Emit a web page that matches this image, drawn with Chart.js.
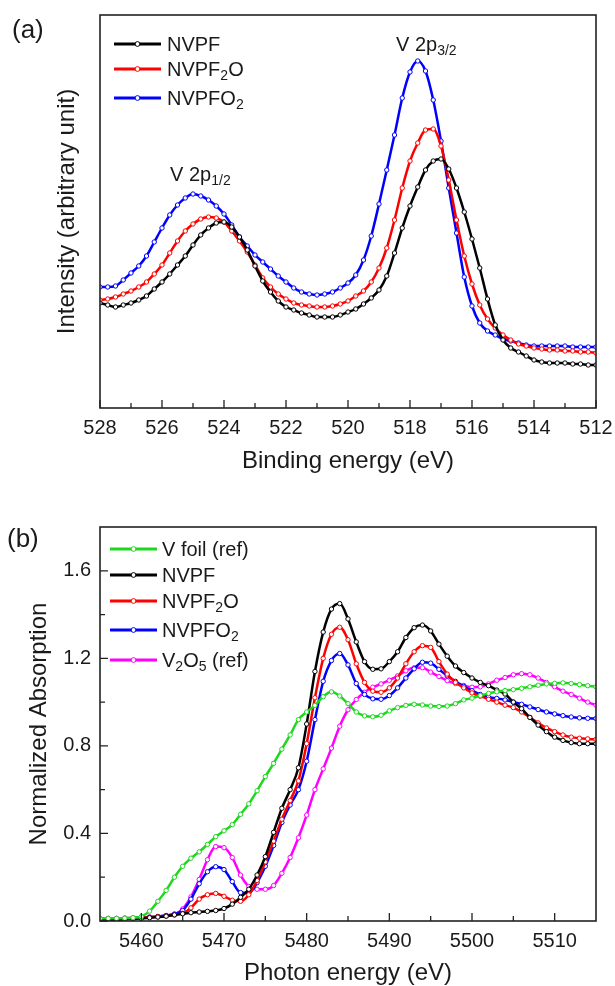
<!DOCTYPE html>
<html lang="en">
<head>
<meta charset="utf-8">
<title>V 2p XPS and V K-edge XANES</title>
<script src="https://cdn.jsdelivr.net/npm/chart.js@4"></script>
<style>
  html, body { margin: 0; padding: 0; background: #fff; }
  .panel { position: absolute; left: 0; width: 615px; }
  #panelA { top: 0; height: 493px; }
  #panelB { top: 490px; height: 496px; }
</style>
</head>
<body>
<div class="panel" id="panelA"><canvas id="xpsChart" width="615" height="493"></canvas></div>
<div class="panel" id="panelB"><canvas id="xanesChart" width="615" height="496"></canvas></div>
<script>
// (a) V 2p XPS, intensity in arbitrary units
const bindingEnergy = [528, 527.75, 527.5, 527.25, 527, 526.75, 526.5, 526.25, 526, 525.75, 525.5, 525.25, 525,
  524.75, 524.5, 524.25, 524, 523.75, 523.5, 523.25, 523, 522.75, 522.5, 522.25, 522, 521.75, 521.5, 521.25, 521,
  520.75, 520.5, 520.25, 520, 519.75, 519.5, 519.25, 519, 518.75, 518.5, 518.25, 518, 517.75, 517.5, 517.25, 517,
  516.75, 516.5, 516.25, 516, 515.75, 515.5, 515.25, 515, 514.75, 514.5, 514.25, 514, 513.75, 513.5, 513.25, 513,
  512.75, 512.5, 512.25, 512];
const xpsNVPF = [105, 103, 101, 103, 105, 108, 112, 119, 126, 134, 143, 152, 163, 173, 180, 185, 186, 181, 171, 158,
  142, 127, 116, 107, 101, 98, 95, 93, 91, 91, 91, 93, 96, 99, 104, 110, 118, 132, 155, 180, 202, 221, 238, 247, 249,
  239, 220, 196, 169, 140, 109, 83, 68, 60, 56, 52, 48, 46, 45, 45, 45, 44, 44, 43, 43];
const xpsNVPF2O = [108, 109, 111, 114, 117, 121, 126, 134, 143, 155, 167, 177, 184, 189, 191, 190, 186, 177, 167, 156,
  143, 130, 121, 114, 109, 105, 103, 102, 101, 101, 102, 104, 107, 112, 117, 126, 140, 160, 188, 220, 247, 265, 278,
  279, 262, 228, 188, 152, 124, 103, 89, 80, 73, 68, 64, 62, 60, 59, 58, 58, 57, 57, 56, 56, 55];
const xpsNVPFO2 = [121, 121, 122, 128, 135, 142, 152, 166, 180, 193, 203, 210, 214, 212, 208, 202, 194, 183, 171, 162,
  153, 146, 139, 132, 126, 120, 116, 114, 113, 114, 116, 120, 125, 133, 148, 172, 204, 238, 273, 310, 336, 347, 337,
  308, 267, 220, 175, 131, 102, 85, 77, 73, 69, 67, 65, 63, 62, 62, 62, 62, 62, 61, 61, 61, 61];
const xpsTicks = [528, 526, 524, 522, 520, 518, 516, 514, 512];
const xpsMinorTicks = [527, 525, 523, 521, 519, 517, 515, 513];

// (b) V K-edge XANES, normalized absorption
const photonEnergy = [5455, 5456, 5457, 5458, 5459, 5460, 5461, 5462, 5463, 5464, 5465, 5466, 5467, 5468, 5469,
  5470, 5471, 5472, 5473, 5474, 5475, 5476, 5477, 5478, 5479, 5480, 5481, 5482, 5483, 5484, 5485, 5486, 5487, 5488,
  5489, 5490, 5491, 5492, 5493, 5494, 5495, 5496, 5497, 5498, 5499, 5500, 5501, 5502, 5503, 5504, 5505, 5506, 5507,
  5508, 5509, 5510, 5511, 5512, 5513, 5514, 5515];
const xanesVfoil = [0.012, 0.012, 0.012, 0.013, 0.015, 0.02, 0.045, 0.09, 0.14, 0.2, 0.25, 0.287, 0.316, 0.35, 0.385,
  0.412, 0.44, 0.487, 0.535, 0.595, 0.66, 0.72, 0.785, 0.85, 0.92, 0.955, 0.985, 1.025, 1.047, 1.028, 0.993, 0.955,
  0.937, 0.933, 0.94, 0.96, 0.975, 0.985, 0.99, 0.987, 0.982, 0.98, 0.982, 0.993, 1.01, 1.018, 1.03, 1.04, 1.047,
  1.053, 1.057, 1.063, 1.07, 1.077, 1.083, 1.086, 1.088, 1.085, 1.08, 1.075, 1.07];
const xanesNVPF = [0.005, 0.005, 0.006, 0.008, 0.01, 0.012, 0.015, 0.018, 0.022, 0.028, 0.033, 0.038, 0.041, 0.044,
  0.048, 0.057, 0.077, 0.108, 0.145, 0.21, 0.294, 0.405, 0.515, 0.6, 0.7, 0.9, 1.14, 1.32, 1.425, 1.45, 1.38, 1.275,
  1.185, 1.15, 1.152, 1.185, 1.23, 1.295, 1.34, 1.352, 1.325, 1.265, 1.21, 1.165, 1.135, 1.11, 1.09, 1.075, 1.055,
  1.037, 1.0, 0.97, 0.93, 0.895, 0.865, 0.84, 0.825, 0.815, 0.81, 0.81, 0.81];
const xanesNVPF2O = [0.01, 0.01, 0.01, 0.012, 0.013, 0.015, 0.017, 0.02, 0.023, 0.028, 0.035, 0.06, 0.1, 0.12, 0.126,
  0.113, 0.095, 0.09, 0.12, 0.185, 0.27, 0.365, 0.465, 0.55, 0.64, 0.81, 1.02, 1.2, 1.31, 1.342, 1.285, 1.175, 1.09,
  1.05, 1.045, 1.065, 1.11, 1.175, 1.23, 1.258, 1.25, 1.185, 1.128, 1.09, 1.065, 1.042, 1.027, 1.013, 1.0, 0.986,
  0.975, 0.955, 0.93, 0.905, 0.882, 0.865, 0.85, 0.84, 0.835, 0.832, 0.83];
const xanesNVPFO2 = [0.01, 0.01, 0.011, 0.012, 0.013, 0.015, 0.017, 0.02, 0.025, 0.032, 0.048, 0.1, 0.17, 0.225, 0.248,
  0.235, 0.18, 0.13, 0.128, 0.175, 0.25, 0.345, 0.45, 0.53, 0.6, 0.73, 0.92, 1.095, 1.19, 1.222, 1.17, 1.085, 1.035,
  1.015, 1.013, 1.03, 1.065, 1.11, 1.152, 1.182, 1.178, 1.15, 1.12, 1.095, 1.072, 1.052, 1.035, 1.022, 1.017, 1.01,
  1.0, 0.99, 0.978, 0.966, 0.955, 0.946, 0.938, 0.932, 0.928, 0.926, 0.925];
const xanesV2O5 = [0.012, 0.012, 0.012, 0.013, 0.014, 0.016, 0.018, 0.021, 0.025, 0.03, 0.055, 0.11, 0.19, 0.28, 0.34,
  0.335, 0.29, 0.21, 0.158, 0.145, 0.145, 0.162, 0.218, 0.29, 0.38, 0.484, 0.6, 0.695, 0.79, 0.89, 0.965, 1.012, 1.045,
  1.068, 1.083, 1.1, 1.12, 1.143, 1.157, 1.157, 1.137, 1.117, 1.098, 1.085, 1.076, 1.068, 1.07, 1.083, 1.1, 1.112,
  1.125, 1.13, 1.125, 1.11, 1.09, 1.07, 1.05, 1.035, 1.018, 1.0, 0.986];
const xanesTicksX = [5460, 5470, 5480, 5490, 5500, 5510];
const xanesMinorX = [5465, 5475, 5485, 5495, 5505];
const xanesTicksY = [0, 0.4, 0.8, 1.2, 1.6];
const xanesMinorY = [0.2, 0.6, 1.0, 1.4];

const FONT = '"Liberation Sans", Arial, sans-serif';
Chart.defaults.font.family = FONT;
Chart.defaults.color = '#1a1a1a';

function toPoints(xs, ys) {
  return xs.map((x, i) => ({ x: x, y: ys[i] }));
}

function series(label, color, xs, ys) {
  return {
    label: label,
    data: toPoints(xs, ys),
    borderColor: color,
    borderWidth: 2.5,
    pointRadius: 2.2,
    pointBorderWidth: 1,
    pointBackgroundColor: '#fff',
    pointBorderColor: color,
    cubicInterpolationMode: 'monotone'
  };
}

// digits that follow a letter are subscripts (NVPF2O, V2O5)
function formulaParts(text) {
  const parts = [];
  let cur = null;
  for (let i = 0; i < text.length; i++) {
    const ch = text[i];
    const sub = /\d/.test(ch) && /[A-Za-z]/.test(text[i - 1] || '');
    if (!cur || cur.sub !== sub) { cur = { t: '', sub: sub }; parts.push(cur); }
    cur.t += ch;
  }
  return parts;
}

function drawRich(ctx, parts, x, y, size) {
  ctx.textAlign = 'left';
  ctx.textBaseline = 'alphabetic';
  parts.forEach(p => {
    const s = p.sub ? size * 0.7 : size;
    ctx.font = s + 'px ' + FONT;
    ctx.fillText(p.t, x, p.sub ? y + size * 0.22 : y);
    x += ctx.measureText(p.t).width;
  });
}

// frame, inward ticks, legend, peak labels and panel letter
const panelDecor = {
  id: 'panelDecor',
  afterDraw(chart, args, opts) {
    const { ctx, chartArea: a, scales } = chart;
    ctx.save();
    ctx.strokeStyle = '#222';
    ctx.lineWidth = 1.6;
    ctx.strokeRect(a.left, a.top, a.right - a.left, a.bottom - a.top);

    ctx.lineWidth = 1.3;
    ctx.beginPath();
    const xTick = (v, len) => {
      const px = scales.x.getPixelForValue(v);
      ctx.moveTo(px, a.bottom); ctx.lineTo(px, a.bottom - len);
    };
    const yTick = (v, len) => {
      const py = scales.y.getPixelForValue(v);
      ctx.moveTo(a.left, py); ctx.lineTo(a.left + len, py);
    };
    (opts.xMajor || []).forEach(v => xTick(v, 8));
    (opts.xMinor || []).forEach(v => xTick(v, 5));
    (opts.yMajor || []).forEach(v => yTick(v, 8));
    (opts.yMinor || []).forEach(v => yTick(v, 5));
    ctx.stroke();

    ctx.fillStyle = '#1a1a1a';
    const lg = opts.legend;
    chart.data.datasets.forEach((ds, i) => {
      const y = lg.rows[i];
      ctx.strokeStyle = ds.borderColor;
      ctx.lineWidth = 3;
      ctx.beginPath();
      ctx.moveTo(lg.x0, y); ctx.lineTo(lg.x1, y);
      ctx.stroke();
      ctx.lineWidth = 1;
      ctx.fillStyle = '#fff';
      ctx.beginPath();
      ctx.arc((lg.x0 + lg.x1) / 2, y, 2.4, 0, Math.PI * 2);
      ctx.fill(); ctx.stroke();
      ctx.fillStyle = '#1a1a1a';
      drawRich(ctx, formulaParts(ds.label), lg.textX, y + 7, 20);
    });

    (opts.notes || []).forEach(n => {
      const px = scales.x.getPixelForValue(n.x);
      const py = scales.y.getPixelForValue(n.y);
      drawRich(ctx, [{ t: n.text, sub: false }, { t: n.sub, sub: true }], px, py, 20);
    });

    ctx.font = '26px ' + FONT;
    ctx.textAlign = 'left';
    ctx.textBaseline = 'alphabetic';
    ctx.fillText(opts.tag.text, opts.tag.x, opts.tag.y);
    ctx.restore();
  }
};

const axisTitleFont = { size: 24, lineHeight: 1 };

new Chart(document.getElementById('xpsChart'), {
  type: 'line',
  data: {
    datasets: [
      series('NVPF', '#000000', bindingEnergy, xpsNVPF),
      series('NVPF2O', '#ff0000', bindingEnergy, xpsNVPF2O),
      series('NVPFO2', '#0000ff', bindingEnergy, xpsNVPFO2)
    ]
  },
  options: {
    responsive: false,
    animation: false,
    devicePixelRatio: 1,
    layout: { padding: { top: 15, right: 19, left: 0, bottom: 0 } },
    plugins: {
      legend: { display: false },
      tooltip: { enabled: false },
      panelDecor: {
        xMajor: xpsTicks,
        xMinor: xpsMinorTicks,
        legend: { x0: 114, x1: 161, textX: 167, rows: [44, 69, 98] },
        notes: [
          { text: 'V 2p', sub: '1/2', x: 525.74, y: 227 },
          { text: 'V 2p', sub: '3/2', x: 518.45, y: 357 }
        ],
        tag: { text: '(a)', x: 12, y: 38 }
      }
    },
    scales: {
      x: {
        type: 'linear', reverse: true, min: 512, max: 528,
        afterBuildTicks: s => { s.ticks = xpsTicks.map(v => ({ value: v })); },
        afterFit: s => { s.height = 85; s.paddingLeft = 0; s.paddingRight = 0; },
        grid: { display: false, drawTicks: false },
        border: { display: false },
        ticks: { font: { size: 20 }, padding: 8, maxRotation: 0, autoSkip: false, callback: v => String(v) },
        title: { display: true, text: 'Binding energy (eV)', font: axisTitleFont, padding: { top: 0, bottom: 20 } }
      },
      y: {
        min: 0, max: 393,
        afterFit: s => { s.width = 100; },
        grid: { display: false, drawTicks: false },
        border: { display: false },
        ticks: { display: false },
        title: { display: true, text: 'Intensity (arbitrary unit)', font: axisTitleFont, padding: { top: 55, bottom: 0 } }
      }
    }
  },
  plugins: [panelDecor]
});

new Chart(document.getElementById('xanesChart'), {
  type: 'line',
  data: {
    datasets: [
      series('V foil (ref)', '#1ed81e', photonEnergy, xanesVfoil),
      series('NVPF', '#000000', photonEnergy, xanesNVPF),
      series('NVPF2O', '#ff0000', photonEnergy, xanesNVPF2O),
      series('NVPFO2', '#0000ff', photonEnergy, xanesNVPFO2),
      series('V2O5 (ref)', '#ff00ff', photonEnergy, xanesV2O5)
    ]
  },
  options: {
    responsive: false,
    animation: false,
    devicePixelRatio: 1,
    layout: { padding: { top: 37, right: 19, left: 0, bottom: 0 } },
    plugins: {
      legend: { display: false },
      tooltip: { enabled: false },
      panelDecor: {
        xMajor: xanesTicksX,
        xMinor: xanesMinorX,
        yMajor: xanesTicksY,
        yMinor: xanesMinorY,
        legend: { x0: 110, x1: 157, textX: 162, rows: [59, 85, 111, 140, 170] },
        tag: { text: '(b)', x: 7, y: 57 }
      }
    },
    scales: {
      x: {
        type: 'linear', min: 5455, max: 5515,
        afterBuildTicks: s => { s.ticks = xanesTicksX.map(v => ({ value: v })); },
        afterFit: s => { s.height = 65; s.paddingLeft = 0; s.paddingRight = 0; },
        grid: { display: false, drawTicks: false },
        border: { display: false },
        ticks: { font: { size: 20 }, padding: 8, maxRotation: 0, autoSkip: false, callback: v => String(v) },
        title: { display: true, text: 'Photon energy (eV)', font: axisTitleFont, padding: { top: 0, bottom: 1 } }
      },
      y: {
        min: 0, max: 1.8,
        afterBuildTicks: s => { s.ticks = xanesTicksY.map(v => ({ value: v })); },
        afterFit: s => { s.width = 100; },
        grid: { display: false, drawTicks: false },
        border: { display: false },
        ticks: { font: { size: 20 }, padding: 9, callback: v => v.toFixed(1) },
        title: { display: true, text: 'Normalized Absorption', font: axisTitleFont, padding: { top: 27, bottom: 0 } }
      }
    }
  },
  plugins: [panelDecor]
});
</script>
</body>
</html>
